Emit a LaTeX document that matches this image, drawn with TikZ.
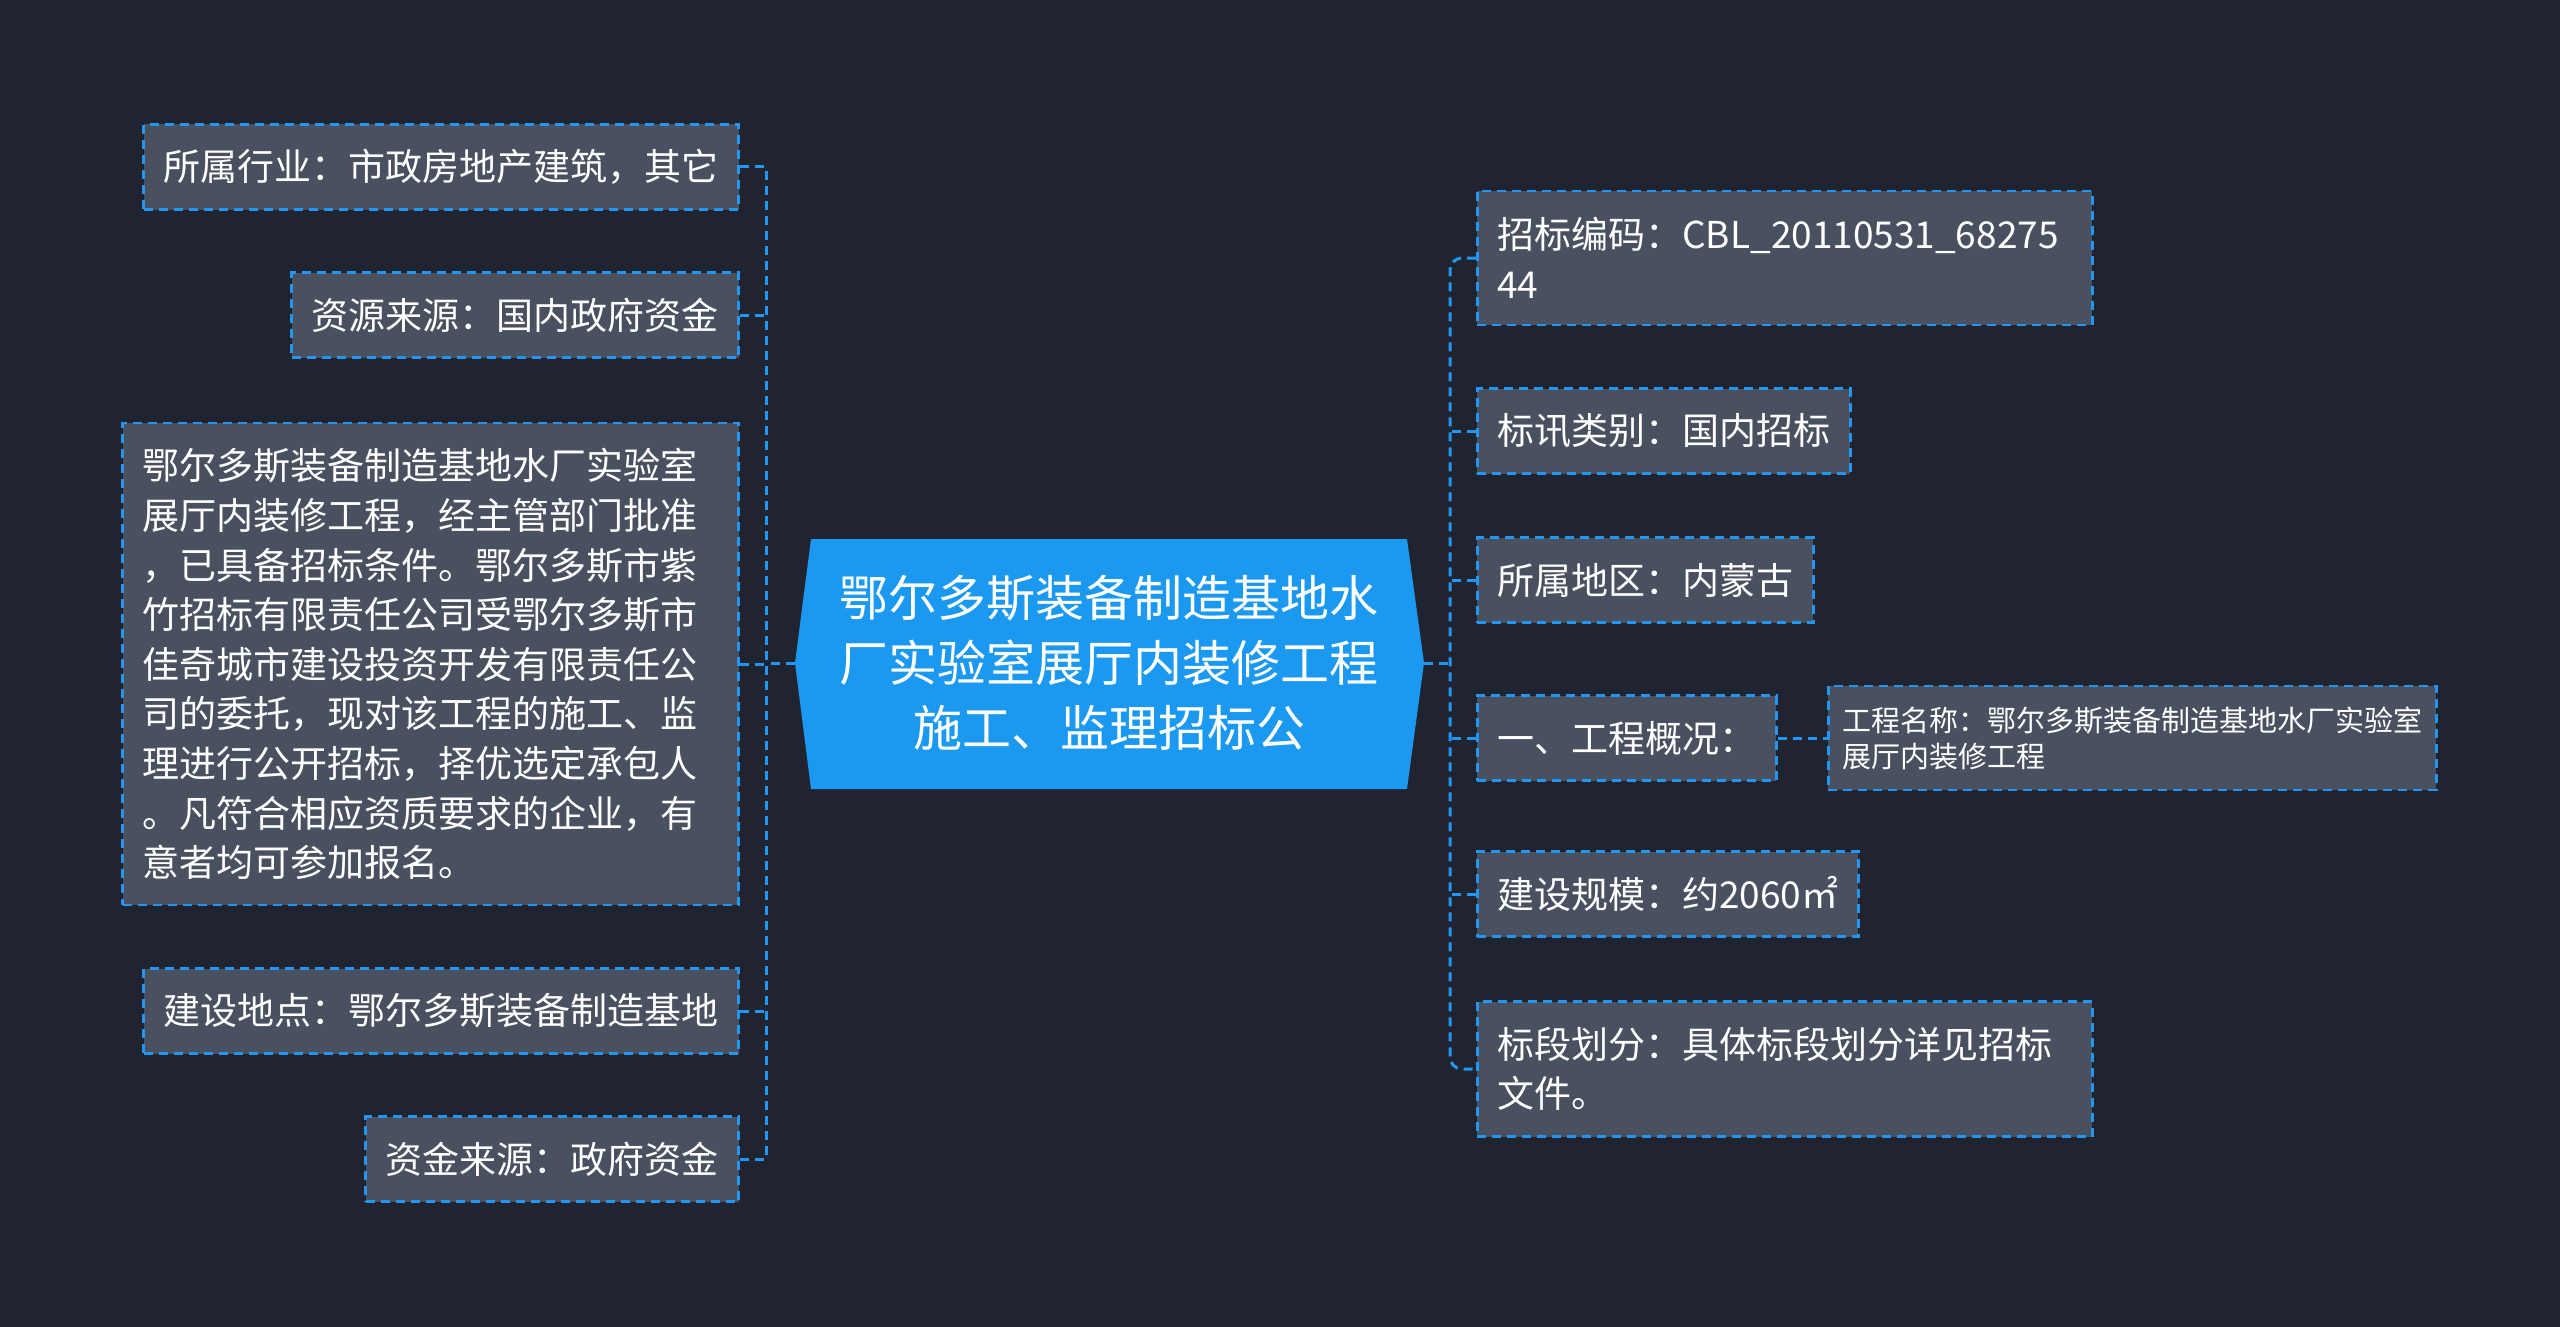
\documentclass[tikz,border=0pt]{standalone}
\usepackage{fontspec}
\setmainfont{Noto Sans CJK SC}
\definecolor{bgc}{RGB}{32,36,48}
\definecolor{boxc}{RGB}{73,80,96}
\definecolor{linec}{RGB}{33,150,243}
\definecolor{mainc}{RGB}{27,152,240}
\begin{document}
\begin{tikzpicture}[x=0.5pt,y=-0.5pt,
  leaf/.style={draw=linec, fill=boxc, line width=1.3pt, dash pattern=on 4.5pt off 3pt,
    text=white, inner xsep=10pt, inner ysep=6pt, minimum height=42.5pt,
    font=\fontsize{18.5pt}{24.8pt}\selectfont},
  subleaf/.style={draw=linec, fill=boxc, line width=1.3pt, dash pattern=on 4.5pt off 3pt,
    text=white, inner xsep=7pt, inner ysep=6pt,
    font=\fontsize{14.5pt}{18pt}\selectfont},
  conn/.style={draw=linec, line width=1.5pt, dash pattern=on 4.5pt off 3pt}]
\useasboundingbox (0,0) rectangle (2560,1327);
\fill[bgc] (0,0) rectangle (2560,1327);

% central node
\fill[mainc] (811,539) -- (1407,539) -- (1424,663) -- (1407,789) -- (811,789) -- (795,663) -- cycle;
\node[text=white, align=center, font=\fontsize{24.5pt}{32.5pt}\selectfont] (c) at (1109,663)
  {鄂尔多斯装备制造基地水\\厂实验室展厅内装修工程\\施工、监理招标公};
\coordinate (cL) at (795,663);
\coordinate (cR) at (1424,663);

% left nodes
\node[leaf, anchor=east] (l1) at (740,167) {所属行业：市政房地产建筑，其它};
\node[leaf, anchor=east] (l2) at (740,315) {资源来源：国内政府资金};
\node[leaf, anchor=east, align=left, text width=288pt, minimum height=241pt] (l3) at (740,664)
  {鄂尔多斯装备制造基地水厂实验室\\展厅内装修工程，经主管部门批准\\，已具备招标条件。鄂尔多斯市紫\\竹招标有限责任公司受鄂尔多斯市\\佳奇城市建设投资开发有限责任公\\司的委托，现对该工程的施工、监\\理进行公开招标，择优选定承包人\\。凡符合相应资质要求的企业，有\\意者均可参加报名。};
\node[leaf, anchor=east] (l4) at (740,1011) {建设地点：鄂尔多斯装备制造基地};
\node[leaf, anchor=east] (l5) at (740,1159) {资金来源：政府资金};

% right nodes
\node[leaf, anchor=west, align=left, text width=287.5pt, minimum height=67pt] (r1) at (1476,258)
  {招标编码：CBL\_20110531\_68275\\44};
\node[leaf, anchor=west] (r2) at (1476,431) {标讯类别：国内招标};
\node[leaf, anchor=west] (r3) at (1476,580) {所属地区：内蒙古};
\node[leaf, anchor=west] (r4) at (1476,738) {一、工程概况：};
\node[subleaf, anchor=west, align=left, minimum height=52pt] (r4a) at (1827,738)
  {工程名称：鄂尔多斯装备制造基地水厂实验室\\展厅内装修工程};
\node[leaf, anchor=west] (r5) at (1476,894) {建设规模：约2060㎡};
\node[leaf, anchor=west, align=left, text width=287.5pt, minimum height=67.5pt] (r6) at (1476,1069)
  {标段划分：具体标段划分详见招标\\文件。};

% left connectors
\coordinate (lt) at (766,663);
\draw[conn] (cL) -- (lt);
\draw[conn] (l1.east) -- (l1.east -| lt) -- (l5.east -| lt) -- (l5.east);
\draw[conn] (l2.east) -- (l2.east -| lt);
\draw[conn] (l3.east) -- (l3.east -| lt);
\draw[conn] (l4.east) -- (l4.east -| lt);

% right connectors
\coordinate (rt) at (1450,663);
\draw[conn] (cR) -- (rt);
\draw[conn, rounded corners=6pt] (r1.west) -- (r1.west -| rt) -- (r6.west -| rt) -- (r6.west);
\draw[conn] (r2.west) -- (r2.west -| rt);
\draw[conn] (r3.west) -- (r3.west -| rt);
\draw[conn] (r4.west) -- (r4.west -| rt);
\draw[conn] (r5.west) -- (r5.west -| rt);
\draw[conn] (r4.east) -- (r4a.west);
\end{tikzpicture}
\end{document}
